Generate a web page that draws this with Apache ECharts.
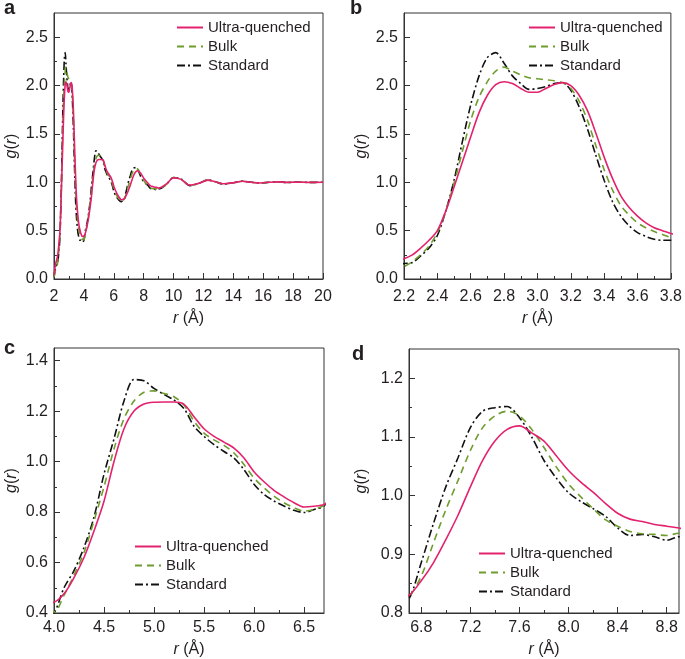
<!DOCTYPE html>
<html>
<head>
<meta charset="utf-8">
<script src="https://cdn.jsdelivr.net/npm/echarts@6/dist/echarts.min.js"></script>
<style>html,body{margin:0;padding:0;background:#fff}#c{width:685px;height:659px}</style>
</head>
<body>
<div id="c"></div>
<script>
// r grid (Å)
const r = [2.0, 2.1,
  2.2, 2.25, 2.3, 2.35, 2.4, 2.45, 2.5, 2.55, 2.6, 2.65, 2.7, 2.75, 2.8, 2.85, 2.9, 2.95, 3.0, 3.05, 3.1, 3.15, 3.2, 3.25, 3.3, 3.35, 3.4, 3.45, 3.5, 3.55, 3.6, 3.65, 3.7, 3.75, 3.8,
  3.9,
  4.0, 4.1, 4.2, 4.3, 4.4, 4.5, 4.6, 4.7, 4.8, 4.9, 5.0, 5.1, 5.2, 5.3, 5.4, 5.5, 5.6, 5.7, 5.8, 5.9, 6.0, 6.1, 6.2, 6.3, 6.4, 6.5, 6.6, 6.7,
  6.8, 6.9, 7.0, 7.1, 7.2, 7.3, 7.4, 7.5, 7.6, 7.7, 7.8, 7.9, 8.0, 8.1, 8.2, 8.3, 8.4, 8.5, 8.6, 8.7, 8.8, 8.9,
  9.0, 9.5, 10.0, 10.5, 11.1, 11.7, 12.3, 12.8, 13.3, 14.0, 14.6, 15.2, 15.8, 16.4, 17.0, 17.6, 18.3, 19.0, 20.0];

const gUltra = [0.04, 0.15,
  0.21, 0.25, 0.32, 0.40, 0.50, 0.70, 0.95, 1.21, 1.47, 1.72, 1.90, 2.01, 2.04, 2.02, 1.97, 1.93, 1.93, 1.97, 2.01, 2.03, 2.00, 1.90, 1.74, 1.51, 1.26, 1.04, 0.86, 0.74, 0.65, 0.58, 0.53, 0.50, 0.47,
  0.44,
  0.443, 0.476, 0.54, 0.62, 0.725, 0.843, 1.00, 1.13, 1.20, 1.228, 1.235, 1.236, 1.236, 1.227, 1.178, 1.13, 1.10, 1.077, 1.053, 1.014, 0.96, 0.92, 0.886, 0.86, 0.837, 0.82, 0.823, 0.83,
  0.855, 0.886, 0.925, 0.967, 1.015, 1.06, 1.093, 1.113, 1.119, 1.107, 1.093, 1.068, 1.043, 1.023, 1.006, 0.987, 0.97, 0.96, 0.956, 0.951, 0.948, 0.945,
  0.94, 0.98, 1.045, 1.03, 0.97, 0.99, 1.022, 1.005, 0.985, 0.995, 1.01, 1.0, 0.993, 1.0, 1.004, 0.999, 1.002, 0.999, 1.0];

const gBulk = [0.02, 0.09,
  0.13, 0.18, 0.25, 0.34, 0.48, 0.70, 0.99, 1.32, 1.64, 1.88, 2.04, 2.15, 2.19, 2.15, 2.11, 2.08, 2.07, 2.06, 2.05, 2.03, 1.97, 1.84, 1.64, 1.38, 1.13, 0.92, 0.76, 0.66, 0.58, 0.53, 0.49, 0.46, 0.43,
  0.41,
  0.404, 0.47, 0.55, 0.64, 0.765, 0.90, 1.05, 1.17, 1.24, 1.275, 1.28, 1.27, 1.257, 1.224, 1.16, 1.113, 1.086, 1.064, 1.034, 0.988, 0.935, 0.896, 0.863, 0.837, 0.817, 0.804, 0.81, 0.827,
  0.863, 0.92, 0.976, 1.026, 1.077, 1.116, 1.136, 1.144, 1.136, 1.113, 1.082, 1.049, 1.02, 0.998, 0.978, 0.959, 0.948, 0.939, 0.935, 0.934, 0.932, 0.936,
  0.935, 0.975, 1.05, 1.03, 0.968, 0.99, 1.022, 1.005, 0.985, 0.995, 1.01, 1.0, 0.993, 1.0, 1.004, 0.999, 1.002, 0.999, 1.0];

const gStandard = [0.02, 0.11,
  0.16, 0.17, 0.24, 0.32, 0.45, 0.70, 1.02, 1.42, 1.80, 2.10, 2.29, 2.34, 2.23, 2.10, 2.02, 1.96, 1.97, 1.99, 2.02, 2.03, 1.95, 1.78, 1.55, 1.28, 1.02, 0.80, 0.65, 0.55, 0.48, 0.44, 0.41, 0.40, 0.40,
  0.38,
  0.40, 0.50, 0.568, 0.66, 0.78, 0.95, 1.09, 1.24, 1.325, 1.32, 1.29, 1.266, 1.244, 1.21, 1.14, 1.10, 1.067, 1.04, 1.014, 0.968, 0.91, 0.87, 0.844, 0.824, 0.807, 0.798, 0.81, 0.824,
  0.886, 0.953, 1.015, 1.065, 1.116, 1.144, 1.15, 1.152, 1.133, 1.10, 1.06, 1.03, 1.005, 0.99, 0.978, 0.965, 0.945, 0.932, 0.934, 0.93, 0.924, 0.93,
  0.93, 0.975, 1.05, 1.035, 0.965, 0.99, 1.024, 1.005, 0.982, 0.995, 1.012, 1.0, 0.992, 1.0, 1.005, 0.998, 1.002, 0.999, 1.0];

const seriesNames = ['Ultra-quenched', 'Bulk', 'Standard'];
const panelLetters = ['a', 'b', 'c', 'd'];

// axis ranges
const xRanges = [[2, 20], [2.2, 3.8], [4.0, 6.7], [6.7, 8.9]];
const yRanges = [[0, 2.75], [0, 2.75], [0.4, 1.45], [0.8, 1.25]];

// tick values
const xMajorA = [2, 4, 6, 8, 10, 12, 14, 16, 18, 20];
const xMinorA = [3, 5, 7, 9, 11, 13, 15, 17, 19];
const xMajorB = [2.2, 2.4, 2.6, 2.8, 3.0, 3.2, 3.4, 3.6, 3.8];
const xMinorB = [2.3, 2.5, 2.7, 2.9, 3.1, 3.3, 3.5, 3.7];
const xMajorC = [4.0, 4.5, 5.0, 5.5, 6.0, 6.5];
const xMinorC = [4.25, 4.75, 5.25, 5.75, 6.25];
const xMajorD = [6.8, 7.2, 7.6, 8.0, 8.4, 8.8];
const xMinorD = [7.0, 7.4, 7.8, 8.2, 8.6];
const yMajorAB = [0.0, 0.5, 1.0, 1.5, 2.0, 2.5];
const yMinorAB = [0.25, 0.75, 1.25, 1.75, 2.25];
const yMajorC = [0.4, 0.6, 0.8, 1.0, 1.2, 1.4];
const yMinorC = [0.5, 0.7, 0.9, 1.1, 1.3];
const yMajorD = [0.8, 0.9, 1.0, 1.1, 1.2];
const yMinorD = [0.85, 0.95, 1.05, 1.15];

const xMajors = [xMajorA, xMajorB, xMajorC, xMajorD];
const xMinors = [xMinorA, xMinorB, xMinorC, xMinorD];
const yMajors = [yMajorAB, yMajorAB, yMajorC, yMajorD];
const yMinors = [yMinorAB, yMinorAB, yMinorC, yMinorD];
const xDecimals = [0, 1, 1, 1];

// ---------- layout / style ----------
const FONT = 'Liberation Sans, Arial, Helvetica, sans-serif';
const TXT = '#231f20';
const AX = '#333';
const grids = [
  {left: 54, top: 13, width: 269, height: 266},
  {left: 404, top: 13, width: 269, height: 266},
  {left: 54, top: 348, width: 270, height: 268},
  {left: 409, top: 349, width: 270, height: 267}
];
const legendPos = [
  {left: 176, top: 20}, {left: 528, top: 20}, {left: 134, top: 539}, {left: 478, top: 546}
];
const letterPos = [
  {left: 4, top: -2}, {left: 350, top: -2}, {left: 4, top: 338}, {left: 352, top: 344}
];
const xLabelMargin = [10, 10, 7, 7];
const xNameGap = [32, 32, 29, 29];
const yNameGap = [34, 34, 34, 39];
const colors = ['#e3226e', '#6e9c2e', '#111111'];
const lineTypes = ['solid', [7, 5], [8, 3, 2, 3]];
const gArrays = [gUltra, gBulk, gStandard];

const xAxes = [], yAxes = [], series = [], legends = [], titles = [];
grids.forEach((g, i) => {
  const xd = xDecimals[i];
  xAxes.push({
    type: 'value', gridIndex: i, min: xRanges[i][0], max: xRanges[i][1], position: 'bottom',
    axisLine: {show: true, onZero: false, lineStyle: {color: AX, width: 1}},
    splitLine: {show: false},
    axisTick: {show: true, inside: true, length: 6, customValues: xMajors[i], lineStyle: {color: AX}},
    axisLabel: {customValues: xMajors[i], formatter: v => v.toFixed(xd), margin: xLabelMargin[i],
      fontSize: 16, color: TXT, fontFamily: FONT},
    name: '{i|r} (Å)', nameLocation: 'middle', nameGap: xNameGap[i],
    nameTextStyle: {fontSize: 16, color: TXT, fontFamily: FONT,
      rich: {i: {fontStyle: 'italic', fontSize: 16, color: TXT, fontFamily: FONT}}}
  });
  xAxes.push({
    type: 'value', gridIndex: i, min: xRanges[i][0], max: xRanges[i][1], position: 'bottom',
    axisLine: {show: false, onZero: false}, splitLine: {show: false},
    axisTick: {show: true, inside: true, length: 3, customValues: xMinors[i], lineStyle: {color: AX}},
    axisLabel: {show: false}
  });
  yAxes.push({
    type: 'value', gridIndex: i, min: yRanges[i][0], max: yRanges[i][1], position: 'left',
    axisLine: {show: true, onZero: false, lineStyle: {color: AX, width: 1}},
    splitLine: {show: false},
    axisTick: {show: true, inside: true, length: 6, customValues: yMajors[i], lineStyle: {color: AX}},
    axisLabel: {customValues: yMajors[i], formatter: v => v.toFixed(1), margin: 6,
      fontSize: 16, color: TXT, fontFamily: FONT},
    name: '{i|g}({i|r})', nameLocation: 'middle', nameGap: yNameGap[i],
    nameTextStyle: {fontSize: 16, color: TXT, fontFamily: FONT,
      rich: {i: {fontStyle: 'italic', fontSize: 16, color: TXT, fontFamily: FONT}}}
  });
  yAxes.push({
    type: 'value', gridIndex: i, min: yRanges[i][0], max: yRanges[i][1], position: 'left',
    axisLine: {show: false, onZero: false}, splitLine: {show: false},
    axisTick: {show: true, inside: true, length: 3, customValues: yMinors[i], lineStyle: {color: AX}},
    axisLabel: {show: false}
  });
  seriesNames.forEach((name, k) => {
    series.push({
      type: 'line', name: name, xAxisIndex: 2 * i, yAxisIndex: 2 * i,
      data: r.map((rv, j) => [rv, gArrays[k][j]]),
      showSymbol: false, symbol: 'none', smooth: 0.3, clip: true, z: 5 - k,
      lineStyle: {color: colors[k], width: 1.6, type: lineTypes[k]},
      itemStyle: {color: colors[k]},
      animation: false
    });
  });
  legends.push({
    data: seriesNames, orient: 'vertical', left: legendPos[i].left, top: legendPos[i].top,
    itemWidth: 26, itemHeight: 14, itemGap: 4, padding: 0, selectedMode: false,
    itemStyle: {opacity: 0},
    textStyle: {fontSize: 15, color: TXT, fontFamily: FONT}
  });
  titles.push({
    text: panelLetters[i], left: letterPos[i].left, top: letterPos[i].top, padding: 0,
    textStyle: {fontSize: 20, fontWeight: 'bold', color: TXT, fontFamily: FONT}
  });
});

const chart = echarts.init(document.getElementById('c'), null, {renderer: 'canvas'});
chart.setOption({
  animation: false,
  backgroundColor: '#fff',
  title: titles,
  grid: grids.map(g => Object.assign({show: true, borderColor: AX, borderWidth: 1, backgroundColor: 'transparent'}, g)),
  xAxis: xAxes,
  yAxis: yAxes,
  legend: legends,
  series: series
});
</script>
</body>
</html>
